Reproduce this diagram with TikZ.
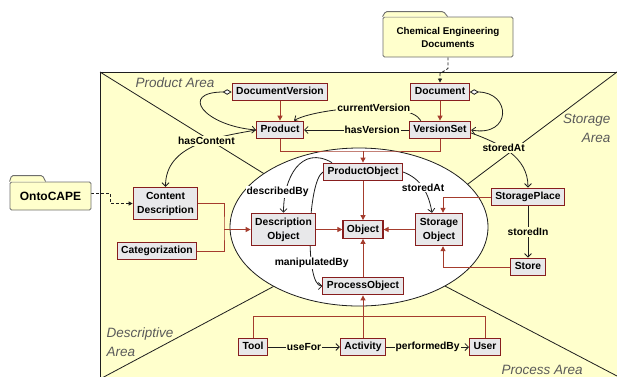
\documentclass[tikz,border=0pt]{standalone}
\usepackage{fontspec}
\setmainfont{Liberation Sans}
\usetikzlibrary{arrows.meta}

\definecolor{areayellow}{RGB}{255,255,204}
\definecolor{boxfill}{RGB}{232,232,234}
\definecolor{boxborder}{RGB}{135,30,30}
\definecolor{isared}{RGB}{165,60,45}
\definecolor{areagray}{RGB}{90,90,90}
\definecolor{linkgray}{RGB}{30,30,30}
\definecolor{foldergray}{RGB}{110,110,110}

\pgfdeclarelayer{back}
\pgfdeclarelayer{links}
\pgfsetlayers{back,links,main}

\begin{document}
\begin{tikzpicture}[x=1pt, y=-1pt, align=center, node distance=38pt,
	box/.style = {draw=boxborder, fill=boxfill, line width=1.1pt, inner xsep=4pt, inner ysep=4pt, text height=7.5pt, text depth=2.2pt, font=\bfseries\fontsize{10.3}{14}\selectfont},
	box2/.style = {draw=boxborder, fill=boxfill, line width=1.1pt, inner xsep=4pt, inner ysep=4.5pt, font=\bfseries\fontsize{10.3}{14}\selectfont},
	folder/.style = {draw=foldergray, fill=areayellow, line width=0.9pt, rounded corners=1.5pt},
	area/.style = {text=areagray, font=\itshape\fontsize{13.5}{19}\selectfont},
	lbl/.style = {fill=areayellow, inner sep=1pt, font=\bfseries\fontsize{10.3}{12}\selectfont},
	lblw/.style = {lbl, fill=white},
	link/.style = {draw=linkgray, line width=0.8pt, arrows={-Straight Barb[length=3.5pt,width=7pt]}},
	agg/.style = {draw=linkgray, line width=0.8pt, arrows={Diamond[fill=white,length=9pt,width=5.5pt]-Straight Barb[length=3.5pt,width=7pt]}},
	isa/.style = {draw=isared, line width=1pt, arrows={-Triangle[length=5pt,width=5pt]}},
	isaline/.style = {draw=isared, line width=1pt},
	dep/.style = {draw=linkgray, line width=0.8pt, dash pattern=on 3pt off 2pt, arrows={-Triangle[length=4pt,width=4pt]}}]
	\useasboundingbox (0,0) rectangle (617,376);
	\clip (0,0) rectangle (617,376);

	\node[box] (docver) at (280,92) {DocumentVersion};
	\node[box] (product) [below of = docver] {Product};
	\node[box] (document) at (440,92) {Document};
	\node[box] (versionset) [below of = document] {VersionSet};
	\node[box2] (contdesc) at (165.5,203.5) {Content\\Description};
	\node[box] (categ) at (157,251) {Categorization};
	\node[box2] (descobj) at (283.5,229.5) {Description\\Object};
	\node[box] (object) at (363,229.5) {Object};
	\node[box] (prodobj) at (363,172) {ProductObject};
	\node[box] (procobj) at (363,286) {ProcessObject};
	\node[box2] (storeobj) at (439,229.5) {Storage\\Object};
	\node[box] (storagep) at (528,197) {StoragePlace};
	\node[box] (store) [node distance=70pt, below of = storagep] {Store};
	\node[box] (tool) at (253,347) {Tool};
	\node[box] (activity) at (363,347) {Activity};
	\node[box] (user) at (485,347) {User};

	\node[folder, minimum width=130pt, minimum height=40pt, font=\bfseries\fontsize{9.8}{13}\selectfont] (chemdocs) at (448,37) {Chemical Engineering\\Documents};
	\filldraw[folder] (chemdocs.north west) -- ++(3,-5) -- ++(58,0) -- ++(4,5);
	\node[folder, minimum width=81pt, minimum height=28pt, font=\bfseries\fontsize{12}{14}\selectfont] (ontocape) at (50.5,196) {OntoCAPE};
	\filldraw[folder] (ontocape.north west) -- ++(2,-6) -- ++(31,0) -- ++(3,6);

	\node[area, anchor=west] (parea) at (132,83) {Product Area};
	\node[area, anchor=east, align=right] (sarea) at (614,128) {Storage\\Area};
	\node[area, anchor=west, align=left] (darea) at (103,342) {Descriptive\\Area};
	\node[area, anchor=west] (prarea) at (498,370) {Process Area};

	\begin{pgfonlayer}{back}
		\clip (0,0) rectangle (617,376);
		\draw[draw=linkgray, line width=0.8pt, fill=areayellow] (100,72) rectangle (640,400);
		\draw[linkgray, line width=0.8pt] (100,72) -- (300,196);
		\draw[linkgray, line width=0.8pt] (640,54.7) -- (420,220);
		\draw[linkgray, line width=0.8pt] (100,379) -- (310,267);
		\draw[linkgray, line width=0.8pt] (630,382.8) -- (400,262.5);
		\draw[linkgray, line width=0.8pt, fill=white] (359,227) ellipse [x radius=129, y radius=79];
	\end{pgfonlayer}

	\begin{pgfonlayer}{links}
		\clip (0,0) rectangle (617,376);
		\draw[isa] (docver) -- (product);
		\draw[isa] (document) -- (versionset);
		\coordinate (pjoin) at (363,151);
		\draw[isaline] (product.south) |- (pjoin) -| (versionset.south);
		\draw[isa] (pjoin) -- (prodobj.north);
		\draw[isa] (prodobj) -- (object);
		\draw[isa] (procobj) -- (object);
		\draw[isa] (descobj) -- (object);
		\draw[isa] (storeobj) -- (object);
		\coordinate (djoin) at (224,229.5);
		\draw[isaline] (contdesc.east) -| (djoin) |- (categ.east);
		\draw[isa] (djoin) -- (descobj.west);
		\draw[isa] (storagep.west) -| ([xshift=4pt]storeobj.north);
		\draw[isa] (store.west) -| ([xshift=4pt]storeobj.south);
		\coordinate (tjoin) at (363,316);
		\draw[isaline] (tool.north) |- (tjoin) -| (user.north);
		\draw[isa] (activity.north) -- (procobj.south);

		\draw[dep] (chemdocs.south) -- ++(0,11) -- ([yshift=9pt]document.north) -- (document.north);
		\draw[dep] ([yshift=3pt]ontocape.east) -- ++(19,0) |- (contdesc.west);

		\draw[link] (versionset) -- node[lbl, pos=0.35] {hasVersion} (product);
		\draw[link] ([xshift=12pt]versionset.north west) to[out=120, in=30, looseness=0.5] node[lbl, pos=0.42] {currentVersion} ([xshift=-10pt]product.north east);
		\draw[agg] (docver.west) to[out=180, in=175, looseness=3] (product.west);
		\draw[agg] (document.east) to[out=0, in=-10, looseness=2.8] (versionset.east);
		\draw[link] (product.west) to[out=190, in=90] node[lbl, pos=0.4] {hasContent} (contdesc.north);
		\draw[link] ([yshift=-3pt]versionset.east) to[out=-20, in=90] node[lbl, pos=0.4] {storedAt} (storagep.north);
		\draw[link] ([xshift=9pt]prodobj.north west) to[out=150, in=90, looseness=1.3] node[lblw, pos=0.8, xshift=-8pt] {describedBy} (descobj.north);
		\draw[link] (prodobj.west) to[out=210, in=180, looseness=0.4] node[lblw, pos=0.7] {manipulatedBy} (procobj.west);
		\draw[link] (prodobj.east) to[out=-20, in=100] node[lblw] {storedAt} ([xshift=-7pt]storeobj.north);
		\draw[link] (storagep) -- node[lbl] {storedIn} (store);
		\draw[link] (tool) -- node[lbl] {useFor} (activity);
		\draw[link] (activity) -- node[lbl] {performedBy} (user);
	\end{pgfonlayer}
\end{tikzpicture}
\end{document}
